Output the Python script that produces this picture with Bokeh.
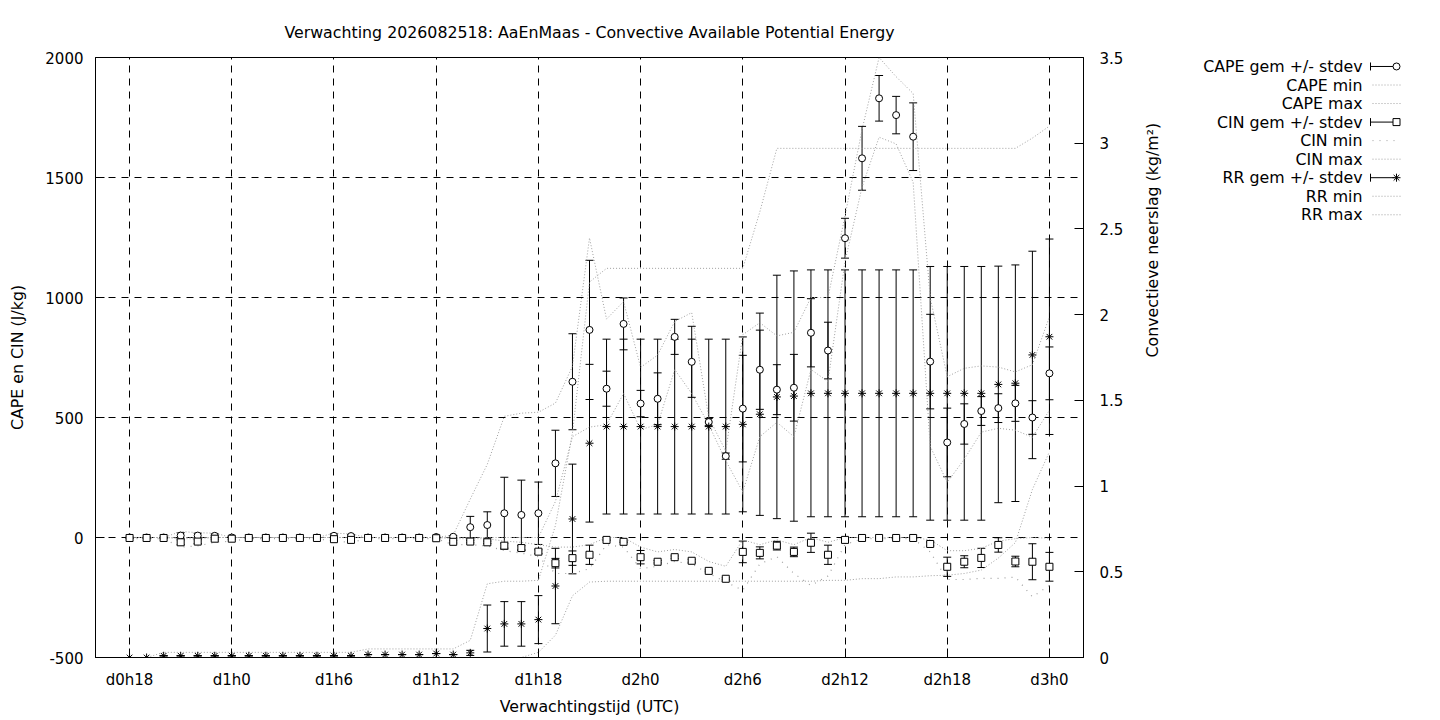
import math
import numpy as np
from bokeh.plotting import figure
from bokeh.layouts import row
from bokeh.models import (ColumnDataSource, Range1d, LinearAxis, FixedTicker,
                          Whisker, TeeHead)
from bokeh.core.properties import value
from bokeh.embed import file_html
from bokeh.resources import INLINE

# forecast hours (d0h18 .. d3h0)
hours = list(range(18, 73))

cape_mean = [0, 0, 0, 8, 8, 7, 0, 0, 0, 0, 0, 0,
             7, 6, 0, 0, 0, 0, 2, 3, 43, 52, 101, 94,
             101, 309, 649, 865, 620, 890, 558, 578, 836, 732, 481, 339,
             537, 699, 616, 624, 853, 779, 1247, 1580, 1830, 1760, 1670, 733,
             396, 473, 527, 539, 559, 500, 684]
cape_sd = [0, 0, 0, 12, 10, 8, 0, 0, 0, 0, 0, 0,
           8, 6, 0, 0, 0, 0, 2, 5, 45, 55, 150, 145,
           130, 138, 200, 290, 73, 108, 55, 108, 73, 148, 15, 13,
           222, 165, 104, 139, 142, 118, 83, 133, 95, 78, 141, 197,
           143, 84, 60, 60, 75, 70, 110]
cape_min = [0, 0, 0, 0, 0, 0, 0, 0, 0, 0, 0, 0,
            0, 0, 0, 0, 0, 0, 0, 0, 0, 0, 0, 0,
            0, 150, 420, 460, 470, 600, 450, 470, 700, 600, 470, 320,
            190, 420, 480, 420, 700, 650, 1150, 1460, 1668, 1640, 1480, 380,
            230, 326, 439, 455, 447, 418, 530]
cape_max = [0, 0, 0, 25, 20, 18, 0, 0, 0, 0, 0, 0,
            18, 15, 0, 0, 0, 0, 0, 10, 160, 305, 505, 518,
            522, 560, 713, 1248, 910, 983, 709, 760, 900, 937, 500, 360,
            845, 895, 840, 855, 1000, 1000, 1340, 1700, 2000, 1920, 1850, 1000,
            670, 705, 715, 710, 690, 720, 920]

cin_mean = [-2, -2, -2, -20, -17, -5, -5, -2, -2, -2, -2, -2,
            -7, -10, -2, -2, -2, -2, -3, -18, -17, -20, -34, -44,
            -59, -107, -86, -72, -10, -18, -82, -101, -82, -97, -139, -172,
            -60, -64, -34, -60, -22, -72, -10, -2, -2, -2, -2, -27,
            -122, -101, -85, -31, -100, -101, -122]
cin_sd = [0, 0, 0, 10, 8, 4, 4, 0, 0, 0, 0, 0,
          4, 5, 0, 0, 0, 0, 2, 5, 5, 5, 10, 10,
          8, 20, 30, 40, 3, 3, 28, 5, 5, 6, 4, 4,
          45, 25, 18, 20, 40, 40, 4, 2, 2, 2, 2, 8,
          40, 25, 40, 30, 22, 75, 60]
cin_min = [-5, -5, -5, -40, -35, -20, -15, -5, -5, -5, -5, -5,
           -15, -20, -5, -5, -5, -5, -5, -30, -30, -35, -55, -65,
           -80, -150, -150, -130, -30, -40, -130, -120, -100, -110, -150, -185,
           -220, -110, -80, -150, -200, -160, -30, -5, -5, -5, -5, -60,
           -175, -175, -170, -170, -165, -247, -200]
cin_max = [0, 0, 0, -5, -5, 0, 0, 0, 0, 0, 0, 0,
           0, 0, 0, 0, 0, 0, 0, -5, -5, -5, -15, -20,
           -30, -40, -40, -30, 0, 0, -40, -60, -50, -60, -100, -120,
           -10, -30, -10, -30, 0, -20, 0, 0, 0, 0, 0, -10,
           -55, -55, -45, -15, -5, 0, -3]

rr_mean = [0, 0, 0.01, 0.01, 0.01, 0.01, 0.01, 0.01, 0.01, 0.01, 0.01, 0.01,
           0.01, 0.01, 0.017, 0.017, 0.017, 0.017, 0.023, 0.017, 0.027, 0.169, 0.196, 0.196,
           0.221, 0.417, 0.808, 1.25, 1.347, 1.347, 1.347, 1.347, 1.347, 1.347, 1.347, 1.347,
           1.36, 1.419, 1.52, 1.525, 1.541, 1.541, 1.541, 1.541, 1.541, 1.541, 1.541, 1.541,
           1.541, 1.541, 1.541, 1.593, 1.6, 1.765, 1.871]
rr_sd = [0, 0, 0, 0, 0, 0, 0, 0, 0, 0, 0, 0,
         0, 0, 0, 0, 0, 0, 0, 0, 0.015, 0.137, 0.13, 0.13,
         0.14, 0.22, 0.32, 0.46, 0.51, 0.51, 0.51, 0.51, 0.51, 0.51, 0.51, 0.51,
         0.51, 0.59, 0.71, 0.73, 0.72, 0.72, 0.72, 0.72, 0.72, 0.72, 0.72, 0.74,
         0.74, 0.74, 0.74, 0.69, 0.69, 0.605, 0.57]
rr_min = [0, 0, 0, 0, 0, 0, 0, 0, 0, 0, 0, 0,
          0, 0, 0, 0, 0, 0, 0, 0, 0, 0, 0, 0,
          0.03, 0.13, 0.36, 0.44, 0.445, 0.445, 0.445, 0.445, 0.445, 0.445, 0.445, 0.445,
          0.445, 0.445, 0.445, 0.445, 0.445, 0.45, 0.45, 0.46, 0.46, 0.47, 0.47, 0.477,
          0.48, 0.49, 0.51, 0.58, 0.67, 0.98, 1.2]
rr_max = [0, 0, 0.03, 0.03, 0.03, 0.03, 0.03, 0.03, 0.03, 0.03, 0.03, 0.03,
          0.03, 0.03, 0.05, 0.05, 0.05, 0.05, 0.05, 0.05, 0.1, 0.43, 0.445, 0.445,
          0.45, 0.77, 1.31, 2.19, 2.27, 2.27, 2.27, 2.27, 2.27, 2.27, 2.27, 2.27,
          2.27, 2.6, 2.97, 2.97, 2.97, 2.97, 2.97, 2.97, 2.97, 2.97, 2.97, 2.97,
          2.97, 2.97, 2.97, 2.97, 2.97, 3.03, 3.1]

x_ticks = [18, 24, 30, 36, 42, 48, 54, 60, 66, 72]
x_labels = ["d0h18", "d1h0", "d1h6", "d1h12", "d1h18", "d2h0", "d2h6", "d2h12", "d2h18", "d3h0"]
y_ticks = [-500, 0, 500, 1000, 1500, 2000]
y_labels = ["-500", "0", "500", "1000", "1500", "2000"]
y2_ticks = [0, 0.5, 1, 1.5, 2, 2.5, 3, 3.5]
y2_labels = ["0", "0.5", "1", "1.5", "2", "2.5", "3", "3.5"]

legend_labels = ["CAPE gem +/- stdev", "CAPE min", "CAPE max",
                 "CIN gem +/- stdev", "CIN min", "CIN max",
                 "RR gem +/- stdev", "RR min", "RR max"]

FONT = "DejaVu Sans"
FS = "15px"      # tick labels
FS_TXT = "15.8px"  # title, axis labels, key
GRAY = "#a0a0a0"

p = figure(width=1175, height=718, x_range=Range1d(16, 74), y_range=Range1d(-500, 2000),
           toolbar_location=None, output_backend="svg",
           min_border_left=95, min_border_right=92, min_border_top=57, min_border_bottom=59)
p.extra_y_ranges = {"rr": Range1d(0, 3.5)}

p.title.text = "Verwachting 2026082518: AaEnMaas - Convective Available Potential Energy"
p.title.align = "center"
p.title.text_font = FONT
p.title.text_font_size = FS_TXT
p.title.text_font_style = "normal"
p.title.text_color = "black"
p.title.standoff = 31

p.outline_line_color = "black"
p.outline_line_alpha = 1
p.background_fill_color = "white"

# axes
p.xaxis.ticker = FixedTicker(ticks=x_ticks)
p.xaxis.major_label_overrides = dict(zip(x_ticks, x_labels))
p.xaxis.axis_label = "Verwachtingstijd (UTC)"
p.yaxis.ticker = FixedTicker(ticks=y_ticks)
p.yaxis.major_label_overrides = dict(zip(y_ticks, y_labels))
p.yaxis.axis_label = "CAPE en CIN (J/kg)"

y2 = LinearAxis(y_range_name="rr", axis_label="Convectieve neerslag (kg/m²)",
                ticker=FixedTicker(ticks=y2_ticks))
y2.major_label_overrides = dict(zip(y2_ticks, y2_labels))
p.add_layout(y2, "right")

for ax in p.axis:
    ax.major_label_text_font = FONT
    ax.major_label_text_font_size = FS
    ax.axis_label_text_font = FONT
    ax.axis_label_text_font_size = FS_TXT
    ax.axis_label_text_font_style = "normal"
    ax.major_tick_in = 9
    ax.major_tick_out = 0
    ax.minor_tick_in = 0
    ax.minor_tick_out = 0
    ax.axis_line_color = "black"
    ax.major_tick_line_color = "black"
    ax.major_label_text_color = "black"
    ax.axis_label_text_color = "black"
p.xaxis.major_label_standoff = 13
p.xaxis.axis_label_standoff = 5
p.yaxis.major_label_standoff = 12
p.yaxis.axis_label_standoff = 15
y2.major_label_standoff = 16
y2.axis_label_standoff = 26
y2.axis_label_orientation = math.pi / 2

# dashed grid
p.xgrid.ticker = FixedTicker(ticks=x_ticks)
p.ygrid.ticker = FixedTicker(ticks=y_ticks)
for g in (p.xgrid, p.ygrid):
    g.grid_line_color = "black"
    g.grid_line_dash = "7 6"
    g.grid_line_width = 1

# min / max lines (dotted)
p.line(hours, cape_min, line_color=GRAY, line_dash="1 2", line_width=1)
p.line(hours, cape_max, line_color=GRAY, line_dash="1 2", line_width=1)
p.line(hours, cin_min, line_color=GRAY, line_dash="1 6", line_width=1.2)
p.line(hours, cin_max, line_color=GRAY, line_dash="1 2", line_width=1)
p.line(hours, rr_min, line_color=GRAY, line_dash="1 2", line_width=1, y_range_name="rr")
p.line(hours, rr_max, line_color=GRAY, line_dash="1 2", line_width=1, y_range_name="rr")


def errorbars(mean, sd, rng="default"):
    m = np.array(mean, dtype=float)
    s = np.array(sd, dtype=float)
    src = ColumnDataSource(dict(h=hours, lo=m - s, hi=m + s))
    w = Whisker(source=src, base="h", lower="lo", upper="hi", dimension="height",
                line_color="black", line_width=1, y_range_name=rng,
                upper_head=TeeHead(size=8, line_color="black", line_width=1),
                lower_head=TeeHead(size=8, line_color="black", line_width=1))
    p.add_layout(w)


errorbars(cape_mean, cape_sd)
errorbars(cin_mean, cin_sd)
errorbars(rr_mean, rr_sd, "rr")

p.scatter(hours, cape_mean, marker="circle", size=7, fill_color="white", line_color="black")
p.scatter(hours, cin_mean, marker="square", size=7, fill_color="white", line_color="black")
p.scatter(hours, rr_mean, marker="asterisk", size=8, line_color="black", y_range_name="rr")

# key, drawn in its own panel; its frame is aligned with the main frame,
# so y is given in page pixels between frame top (57) and bottom (659)
W = 1440 - 1175
leg = figure(width=W, height=718, x_range=Range1d(0, W), y_range=Range1d(659, 57),
             x_axis_type=None, y_axis_type=None, toolbar_location=None,
             output_backend="svg", min_border=0, outline_line_color=None)
leg.grid.visible = False
row_y = [66 + 18.6 * i for i in range(len(legend_labels))]
leg.text(x=[187] * len(legend_labels), y=row_y, text=legend_labels,
         text_align="right", text_baseline="middle", text_font=value(FONT),
         text_font_size=FS_TXT, text_color="black")
markers = {0: "circle", 3: "square", 6: "asterisk"}
for i, yy in enumerate(row_y):
    if i in markers:
        leg.segment(x0=[195], y0=[yy], x1=[219], y1=[yy], line_color="black")
        leg.segment(x0=[195], y0=[yy - 4], x1=[195], y1=[yy + 4], line_color="black")
        leg.scatter(x=[221], y=[yy], marker=markers[i], size=7 if i < 6 else 8,
                    fill_color="white", line_color="black")
    else:
        dash = "1 6" if i == 4 else "1 2"
        leg.segment(x0=[197], y0=[yy], x1=[225], y1=[yy], line_color=GRAY, line_dash=dash)

layout = row(p, leg)
open("out.html", "w").write(file_html(layout, INLINE))
